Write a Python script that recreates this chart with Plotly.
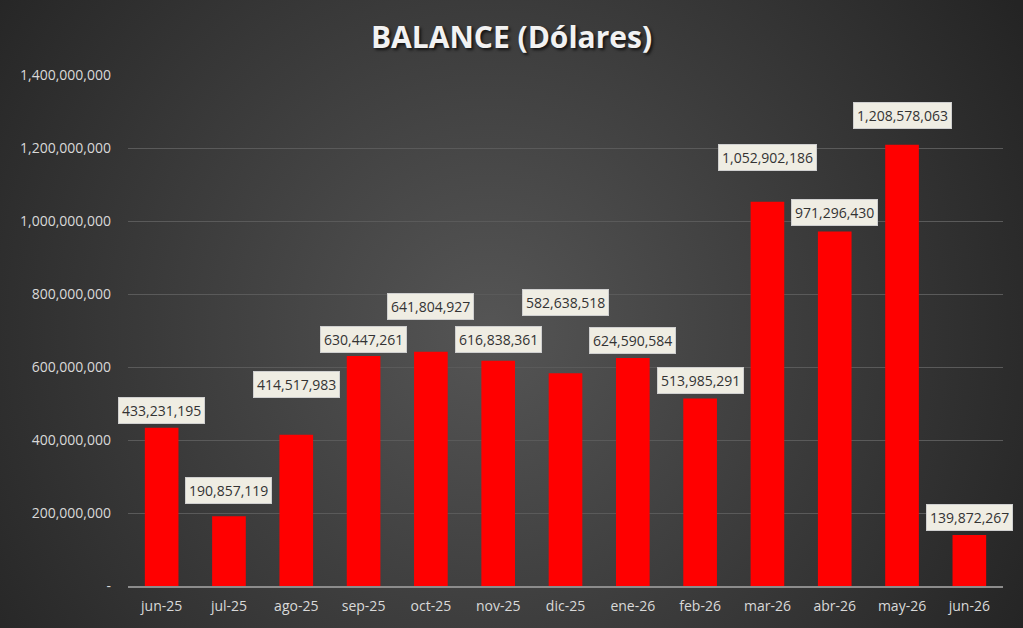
import base64

import plotly.graph_objects as go

# Data
months = ["jun-25", "jul-25", "ago-25", "sep-25", "oct-25", "nov-25", "dic-25",
          "ene-26", "feb-26", "mar-26", "abr-26", "may-26", "jun-26"]
balance = [433231195, 190857119, 414517983, 630447261, 641804927, 616838361, 582638518,
           624590584, 513985291, 1052902186, 971296430, 1208578063, 139872267]

y_ticks = [0, 200000000, 400000000, 600000000, 800000000, 1000000000, 1200000000, 1400000000]
y_tick_text = ["-", "200,000,000", "400,000,000", "600,000,000", "800,000,000",
               "1,000,000,000", "1,200,000,000", "1,400,000,000"]

# pixel lift of each value label above its bar (labels were hand placed)
label_lift = [17, 26, 50, 16, 45, 21, 71, 18, 18, 44, 19, 29, 17]

W, H = 1023, 628
ml, mr, mt, mb = 128, 20, 75, 42
pw, ph = W - ml - mr, H - mt - mb

# radial gradient background as an inline svg
svg = f"""<svg xmlns='http://www.w3.org/2000/svg' width='{W}' height='{H}'>
<defs><radialGradient id='g' gradientUnits='userSpaceOnUse' cx='490' cy='330' r='620'>
<stop offset='0%' stop-color='#555555'/>
<stop offset='100%' stop-color='#242424'/>
</radialGradient></defs>
<rect width='{W}' height='{H}' fill='url(#g)'/></svg>"""
bg_src = "data:image/svg+xml;base64," + base64.b64encode(svg.encode()).decode()

fig = go.Figure()

fig.add_trace(go.Bar(
    x=months, y=balance,
    marker=dict(color="#ff0000", line=dict(width=0)),
    hovertemplate="%{x}: %{y:,}<extra></extra>",
))

for m, v, lift in zip(months, balance, label_lift):
    fig.add_annotation(
        x=m, y=v, yref="y", xref="x",
        text=f"{v:,}", showarrow=False,
        yanchor="middle", yshift=lift,
        font=dict(family="Open Sans", size=14, color="#333333"),
        bgcolor="#efede3", bordercolor="#cfcfcf", borderwidth=1, borderpad=3,
    )

fig.update_layout(
    width=W, height=H,
    margin=dict(l=ml, r=mr, t=mt, b=mb, autoexpand=False),
    paper_bgcolor="#333333", plot_bgcolor="rgba(0,0,0,0)",
    showlegend=False, bargap=0.5,
    title=dict(
        text="<b>BALANCE (Dólares)</b>", x=0.5, xanchor="center", y=0.94, yanchor="middle",
        font=dict(family="Open Sans", size=30, color="#f2f2f2",
                  shadow="2px 2px 3px rgba(0,0,0,0.7)"),
    ),
    images=[dict(
        source=bg_src, xref="paper", yref="paper",
        x=-ml / pw, y=1 + mt / ph, sizex=W / pw, sizey=H / ph,
        xanchor="left", yanchor="top", sizing="stretch", layer="below",
    )],
)

fig.update_yaxes(
    range=[0, 1400000000], tickvals=y_ticks, ticktext=y_tick_text,
    showgrid=True, gridcolor="#5a5a5a", gridwidth=1, zeroline=False,
    tickfont=dict(family="Open Sans", size=14, color="#d9d9d9"),
    ticks="", ticklabelstandoff=16, automargin=False,
)
fig.update_xaxes(
    range=[-0.5, len(months) - 0.5],
    showline=True, linecolor="#8c8c8c", linewidth=1.5,
    tickfont=dict(family="Open Sans", size=14, color="#d9d9d9"),
    ticks="", ticklabelstandoff=6, automargin=False,
)

fig.write_html("out.html", config={"displayModeBar": False},
               post_script="document.body.style.margin='0';")
